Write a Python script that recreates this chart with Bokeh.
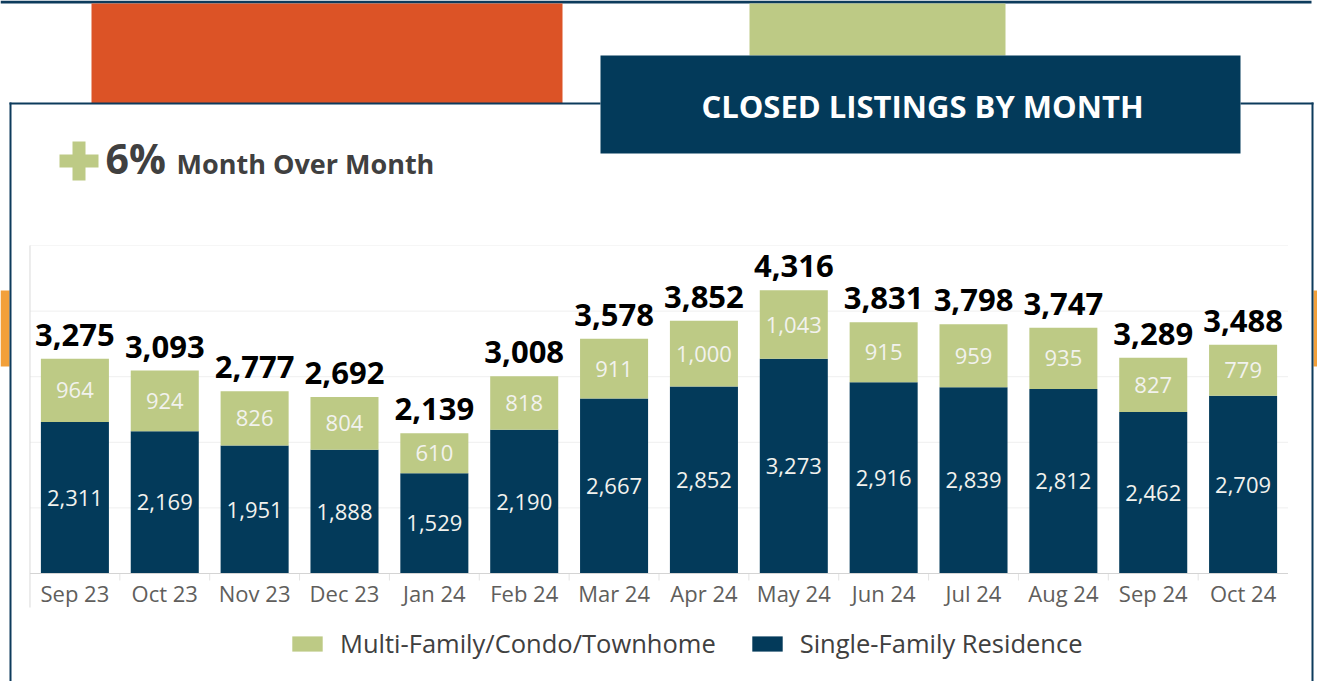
from bokeh.plotting import figure
from bokeh.models import FactorRange, Range1d, Legend, LegendItem, ColumnDataSource
from bokeh.core.properties import value
from bokeh.embed import file_html
from bokeh.resources import INLINE

# ---------------- data ----------------
months = ["Sep 23", "Oct 23", "Nov 23", "Dec 23", "Jan 24", "Feb 24", "Mar 24",
          "Apr 24", "May 24", "Jun 24", "Jul 24", "Aug 24", "Sep 24", "Oct 24"]
single_family = [2311, 2169, 1951, 1888, 1529, 2190, 2667, 2852, 3273, 2916, 2839, 2812, 2462, 2709]
multi_family = [964, 924, 826, 804, 610, 818, 911, 1000, 1043, 915, 959, 935, 827, 779]
series_names = ["Single-Family Residence", "Multi-Family/Condo/Townhome"]
title_text = "CLOSED LISTINGS BY MONTH"
change_value = "6%"
change_text = "Month Over Month"
grid_ticks = [1000, 2000, 3000, 4000]
y_max = 5000

# ---------------- styles ----------------
NAVY = "#033A5A"
GREEN = "#BDCA85"
ORANGE = "#DC5326"
LIGHT_ORANGE = "#F2A03A"
BORDER = "#0D3B5C"
FONT = "Open Sans"

W, H = 1317, 681
PLOT_TOP, PLOT_BOTTOM = 245, 573       # pixel rows of y_max and of 0
units_per_px = y_max / (PLOT_BOTTOM - PLOT_TOP)
pad = 0.328                            # category padding (synthetic units)
n = len(months)


def sx(px):
    """pixel column -> synthetic x coordinate of the categorical scale"""
    return -pad + px * (n + 2 * pad) / W


totals = [s + m for s, m in zip(single_family, multi_family)]
src = ColumnDataSource(dict(
    month=months,
    sfr=single_family,
    mf=multi_family,
    total=totals,
    sfr_mid=[s / 2 for s in single_family],
    mf_mid=[s + m / 2 for s, m in zip(single_family, multi_family)],
    sfr_lbl=[f"{v:,}" for v in single_family],
    mf_lbl=[f"{v:,}" for v in multi_family],
    total_lbl=[f"{v:,}" for v in totals],
))

p = figure(width=W, height=H,
           x_range=FactorRange(*months, range_padding=pad, range_padding_units="absolute"),
           y_range=Range1d(-(H - PLOT_BOTTOM) * units_per_px, y_max + PLOT_TOP * units_per_px),
           x_axis_location=None, y_axis_location=None,
           output_backend="svg", toolbar_location=None,
           min_border=0, min_border_left=0, min_border_right=0,
           min_border_top=0, min_border_bottom=0)
p.outline_line_color = None
p.background_fill_color = "white"
p.border_fill_color = "white"
p.grid.grid_line_color = None
p.grid.visible = False
p.extra_y_ranges["px"] = Range1d(H, 0)


def box(l, t, r, b, color):
    p.quad(left=sx(l), right=sx(r), top=t, bottom=b, y_range_name="px",
           fill_color=color, line_color=None)


def txt(x, y, s, size, color, style="bold", align="left"):
    p.text(x=[sx(x)], y=[y], text=[s], y_range_name="px",
           text_align=align, text_baseline="middle", text_font=value(FONT),
           text_font_size=size, text_font_style=style, text_color=color)


# ---------------- decorations ----------------
box(0, 0, 1311, 3, BORDER)
box(91, 3, 562, 103, ORANGE)
box(749, 3, 1005, 55, GREEN)
box(0, 290, 9, 366, LIGHT_ORANGE)
box(1313, 290, 1317, 366, LIGHT_ORANGE)
box(9, 102, 11, 681, BORDER)
box(9, 102, 600, 104, BORDER)
box(1240, 102, 1313, 104, BORDER)
box(1311, 102, 1313, 681, BORDER)
box(600, 55, 1240, 153, NAVY)
box(59, 154, 98, 167, GREEN)
box(72, 141, 85, 180, GREEN)

txt(922, 105, title_text, "31px", "white", align="center")
txt(105, 157.5, change_value, "41px", "#404040")
txt(176, 163, change_text, "27px", "#404040")

# ---------------- grid & axes (drawn on the chart's own scales) ----------------
p.segment(x0=0, x1=n, y0=grid_ticks, y1=grid_ticks, line_color="#EFEFEF", line_width=1)
p.segment(x0=0, x1=n, y0=y_max, y1=y_max, line_color="#F6F6F6", line_width=1)
p.segment(x0=0, x1=0, y0=-34 * units_per_px, y1=y_max, line_color="#D9D9D9", line_width=1)
p.segment(x0=list(range(1, n)), x1=list(range(1, n)), y0=0, y1=-7 * units_per_px,
          line_color="#E3E3E3", line_width=1)

rs = p.vbar_stack(["sfr", "mf"], x="month", width=0.757, color=[NAVY, GREEN],
                  line_color=None, source=src)

p.segment(x0=0, x1=n, y0=0, y1=0, line_color="#D4D4D4", line_width=1)

p.text(x=months, y=0, text=months, y_offset=19, text_align="center",
       text_baseline="middle", text_font=value(FONT), text_font_size="22px",
       text_color="#605E5C")

p.text(x="month", y="sfr_mid", text="sfr_lbl", source=src, text_align="center",
       text_baseline="middle", text_font=value(FONT), text_font_size="22px",
       text_color="#F2F2EE")
p.text(x="month", y="mf_mid", text="mf_lbl", source=src, text_align="center",
       text_baseline="middle", text_font=value(FONT), text_font_size="22px",
       text_color="#F2F2EE")
p.text(x="month", y="total", text="total_lbl", source=src, text_align="center",
       text_baseline="middle", y_offset=-24, text_font=value(FONT),
       text_font_size="31px", text_font_style="bold", text_color="#000000")

# ---------------- legend ----------------
legend = Legend(items=[LegendItem(label=series_names[1], renderers=[rs[1]]),
                       LegendItem(label=series_names[0], renderers=[rs[0]])],
                location=(288, 21), orientation="horizontal",
                glyph_width=38, glyph_height=19, label_standoff=14, spacing=32,
                padding=0, margin=0, border_line_color=None, background_fill_alpha=0,
                label_text_font=FONT, label_text_font_size="25.5px",
                label_text_color="#404040")
p.add_layout(legend)

open("out.html", "w").write(file_html(p, INLINE))
